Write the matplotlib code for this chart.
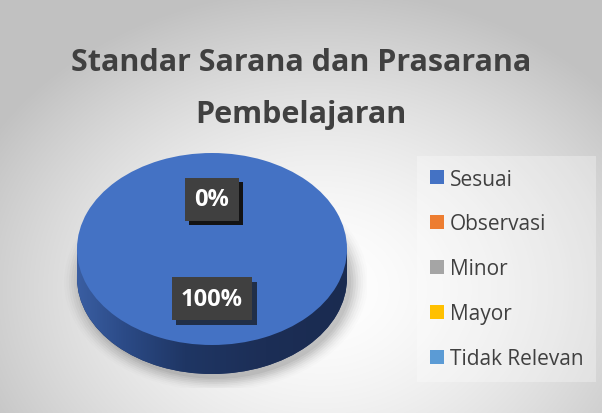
import numpy as np
import matplotlib
matplotlib.use("Agg")
import matplotlib.pyplot as plt
from matplotlib.patches import Rectangle, Ellipse
from matplotlib.colors import LinearSegmentedColormap
import matplotlib.patheffects as pe

# ---- data ----
title_lines = ["Standar Sarana dan Prasarana", "Pembelajaran"]
categories = ["Sesuai", "Observasi", "Minor", "Mayor", "Tidak Relevan"]
values = [100, 0, 0, 0, 0]
colors = ["#4472C4", "#ED7D31", "#A5A5A5", "#FFC000", "#5B9BD5"]

W, H = 602, 414
fig = plt.figure(figsize=(W / 100, H / 100), dpi=100)

# ---- background radial gradient ----
bg = fig.add_axes([0, 0, 1, 1])
yy, xx = np.mgrid[0:H, 0:W]
r = np.sqrt(((xx - 320) / 380.0) ** 2 + ((yy - 290) / 300.0) ** 2)
t = np.clip(r, 0, 1) ** 1.6
g = 1.0 - t * (1.0 - 0.76)
bg.imshow(np.dstack([g, g, g]), extent=(0, W, H, 0), aspect="auto")
bg.set_xlim(0, W)
bg.set_ylim(H, 0)
bg.axis("off")

# ---- pie axes (pixel-based layout) ----
cx, cy, rx, ry = 212, 250, 135, 96
depth = 29 / ry
xl, xr = -1.15, 1.15
yb, yt = -1.45, 1.1
left = cx + xl * rx
top = cy - yt * ry
wpx = (xr - xl) * rx
hpx = (yt - yb) * ry
ax = fig.add_axes([left / W, (H - top - hpx) / H, wpx / W, hpx / H])
ax.patch.set_alpha(0)

# soft shadow under the pie
for i, a in enumerate(np.linspace(0.05, 0.012, 8)):
    s = 1.0 + i * 0.018
    ax.add_patch(Ellipse((0.03, -depth - 0.04), 2 * s, 2 * s + 0.02,
                         facecolor="black", alpha=a, lw=0, zorder=0))

# side of the 3D pie
side_wedges, _ = ax.pie(values, colors=["#1F3462"] * len(values), center=(0, -depth),
                        startangle=90, counterclock=False, radius=1,
                        wedgeprops=dict(linewidth=0), frame=True)
rect = Rectangle((-1, -depth), 2, depth, facecolor="#1F3462", lw=0, zorder=1)
ax.add_patch(rect)
side_cmap = LinearSegmentedColormap.from_list(
    "side", [(0, "#3A5EA2"), (0.18, "#2B4A86"), (0.4, "#1F3664"), (0.7, "#1C2E56"), (1, "#1A2B50")])
grad = np.linspace(0, 1, 256).reshape(1, -1)
for clip in (side_wedges[0], rect):
    im = ax.imshow(grad, cmap=side_cmap, extent=(-1, 1, -1 - depth, 0), aspect="auto", zorder=1.5)
    im.set_clip_path(clip)

# top face
wedges, _, autotexts = ax.pie(values, colors=colors, startangle=90, counterclock=False,
                              radius=1, autopct=lambda p: f"{p:.0f}%", pctdistance=0.52,
                              wedgeprops=dict(linewidth=0), frame=True,
                              textprops=dict(color="white", fontsize=17, fontweight="bold",
                                             family="Open Sans"))
for w in wedges:
    w.set_zorder(2)
for at in autotexts:
    at.set_zorder(5)
    at.set_bbox(dict(boxstyle="square,pad=0.4", facecolor="#404040", edgecolor="none"))
    at.get_bbox_patch().set_path_effects([pe.SimplePatchShadow(offset=(3, -3), alpha=0.7), pe.Normal()])

ax.set_aspect("auto")
ax.set_xlim(xl, xr)
ax.set_ylim(yb, yt)
ax.axis("off")

# ---- title ----
fig.text(301 / W, 1 - 71 / H, title_lines[0], ha="center", va="baseline",
         fontsize=22, fontweight="bold", color="#404040", family="Open Sans")
fig.text(301 / W, 1 - 123 / H, title_lines[1], ha="center", va="baseline",
         fontsize=22, fontweight="bold", color="#404040", family="Open Sans")

# ---- legend ----
leg = fig.legend(wedges, categories, loc="upper left", bbox_to_anchor=(417 / W, 1 - 157 / H),
                 borderaxespad=0, frameon=True, fancybox=False, framealpha=0.3,
                 facecolor="white", edgecolor="none",
                 prop=dict(family="Open Sans", size=15),
                 handlelength=0.68, handleheight=0.68, handletextpad=0.3,
                 borderpad=0.6, labelspacing=1.15)
for txt in leg.get_texts():
    txt.set_color("#404040")

fig.savefig("out.png", dpi=100)
